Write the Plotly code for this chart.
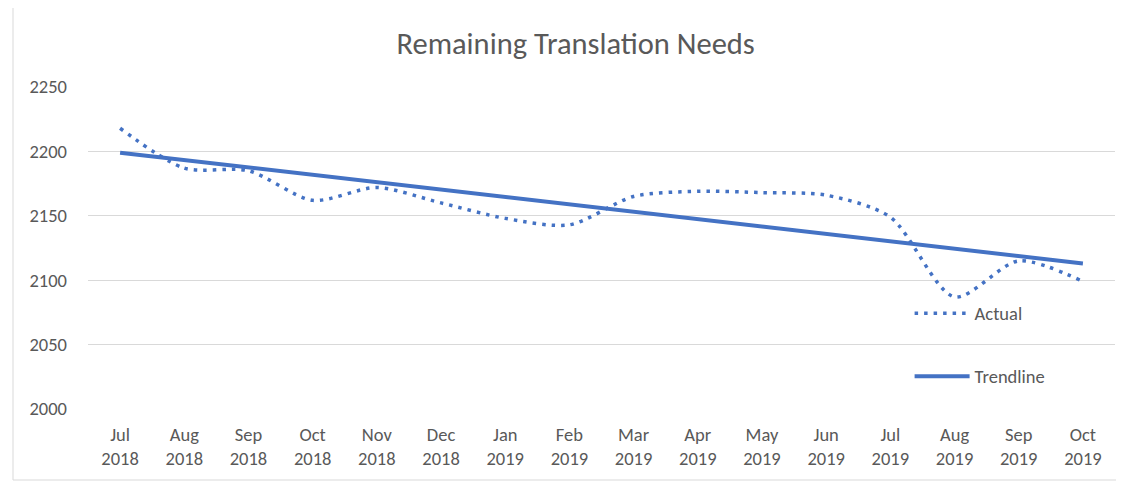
import plotly.graph_objects as go

months = ["Jul<br>2018", "Aug<br>2018", "Sep<br>2018", "Oct<br>2018", "Nov<br>2018", "Dec<br>2018",
          "Jan<br>2019", "Feb<br>2019", "Mar<br>2019", "Apr<br>2019", "May<br>2019", "Jun<br>2019",
          "Jul<br>2019", "Aug<br>2019", "Sep<br>2019", "Oct<br>2019"]
actual = [2218, 2187, 2185, 2162, 2172, 2160, 2148, 2143, 2165, 2169, 2168, 2166, 2149, 2087, 2115, 2099]
trend_x = [months[0], months[-1]]
trend_y = [2199, 2113]
y_ticks = [2000, 2050, 2100, 2150, 2200, 2250]

FONT = "Calibri, Carlito, 'Liberation Sans Narrow', 'Open Sans', sans-serif"
BLUE = "#4472C4"
GREY = "#595959"

fig = go.Figure()
fig.add_trace(go.Scatter(x=months, y=actual, name="Actual", mode="lines",
                         line=dict(color=BLUE, width=3.5, dash="3.5px,6px", shape="spline", smoothing=0.8),
                         legendgroup="a"))
fig.add_trace(go.Scatter(x=trend_x, y=trend_y, name="Trendline", mode="lines",
                         line=dict(color=BLUE, width=4), legendgroup="b"))

fig.update_layout(
    width=1124, height=483,
    margin=dict(l=80, r=17, t=79, b=82),
    paper_bgcolor="white", plot_bgcolor="white",
    title=dict(text="Remaining Translation Needs", x=0.505, xanchor="center", y=0.9275, yanchor="middle",
               font=dict(family=FONT, size=30.5, color=GREY)),
    font=dict(family=FONT, color=GREY, size=18.5),
    showlegend=True,
    legend=dict(x=0.8, y=0.355, xanchor="left", yanchor="top", bgcolor="rgba(0,0,0,0)",
                traceorder="grouped", tracegroupgap=36, itemwidth=55,
                font=dict(family=FONT, size=18.5, color=GREY)),
    xaxis=dict(type="category", categoryorder="array", categoryarray=months,
               range=[-0.5, 15.5], showgrid=False, showline=False, ticks="",
               tickfont=dict(family=FONT, size=18.5, color=GREY), ticklabelstandoff=12),
    yaxis=dict(range=[2000, 2250], tickvals=y_ticks, showgrid=True, gridcolor="#d9d9d9", gridwidth=1,
               zeroline=False, showline=False, ticks="",
               tickfont=dict(family=FONT, size=18.5, color=GREY), ticklabelstandoff=20),
    shapes=[dict(type="rect", xref="paper", yref="paper",
                 x0=(13 - 88) / 1027, x1=(1121 - 88) / 1027,
                 y0=(409 - 480) / 322, y1=(409 - 4) / 322,
                 line=dict(color="#d9d9d9", width=1), fillcolor="rgba(0,0,0,0)", layer="below")],
)

fig.write_html("out.html")
